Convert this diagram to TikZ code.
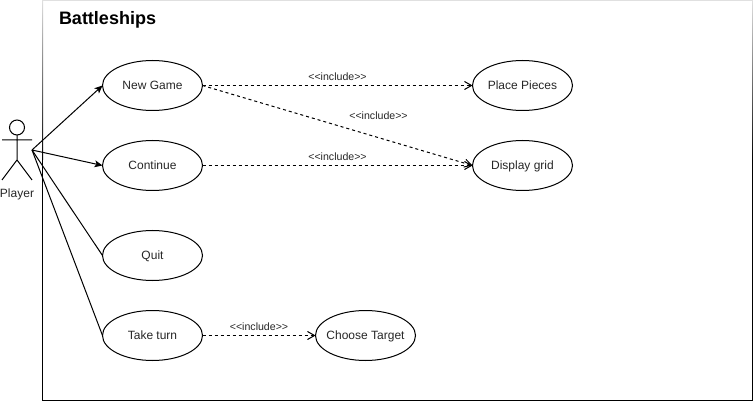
\documentclass[tikz,border=0pt]{standalone}
\usepackage{fontspec}
\setmainfont{Liberation Sans}
\usetikzlibrary{positioning,shapes.geometric,arrows.meta}
\newcommand{\incltxt}{{<}{<}include{>}{>}}
\tikzset{ %
  ,>={Stealth[length=8pt,width=7pt,inset=2pt]}
  ,every node/.style={font=\fontsize{12}{14}\selectfont, text=black!85}
  ,usecase/.style={draw, ellipse, inner sep=0, outer sep=0, minimum width=100pt, minimum height=50pt, text height=10pt, text depth=2pt, text=black!85}
  ,stereo/.style={font=\fontsize{10.6}{12}\selectfont, inner sep=0}
  ,incl/.style={dash pattern=on 3pt off 3pt, -{Straight Barb[length=7pt,width=8pt]}}
  ,fadeside/.style={top color=black!12, bottom color=black}
}

\begin{document}
\begin{tikzpicture}[x=1pt, y=-1pt, line width=1pt]
      \useasboundingbox (0,0) rectangle (753,401);
      % frame, fading out to the top
      \shade[fadeside] (42,0) rectangle (43,160);
      \shade[fadeside] (752,0) rectangle (753,160);
      \draw[black!12] (42,0.5) -- (753,0.5);
      \draw (42.5,160) -- (42.5,400.5) -- (752.5,400.5) -- (752.5,160);
      \node[anchor=west, inner sep=0, font=\fontsize{18}{20}\selectfont\bfseries, text=black] (title) at (58.5,20) {Battleships};
      % use cases
      \node[usecase] (newgame) at (152.5,85.5) {New Game};
      \node[usecase, below=30pt of newgame] (continue) {Continue};
      \node[usecase, below=40pt of continue] (quit) {Quit};
      \node[usecase, below=30pt of quit] (taketurn) {Take turn};
      \node[usecase, right=270pt of newgame] (place) {Place Pieces};
      \node[usecase, right=270pt of continue] (grid) {Display grid};
      \node[usecase, right=113pt of taketurn] (target) {\makebox[0pt]{Choose Target}};
      % actor
      \coordinate (hip) at (17,160);
      \coordinate (hand) at (32,150);
      \draw (17,127.5) circle (7.5pt);
      \draw (17,135) -- (hip) (2,140) -- (32,140) (2,180) -- (hip) -- (32,180);
      \node[inner sep=0] (player) at (17,194) {Player};
      % connectors
      \draw[->] (hand) -- (newgame.west);
      \draw[->] (hand) -- (continue.west);
      \draw (hand) -- (quit.west);
      \draw (hand) -- (taketurn.west);
      \draw[incl] (newgame.east) -- (place.west) node[stereo, pos=0.5, above=4pt] {\incltxt};
      \draw[incl] (newgame.east) -- (grid.west);
      \node[stereo] (inclgrid) at (378.5,116) {\incltxt};
      \draw[incl] (continue.east) -- (grid.west) node[stereo, pos=0.5, above=4pt] {\incltxt};
      \draw[incl] (taketurn.east) -- (target.west) node[stereo, pos=0.5, above=4pt] {\incltxt};
    \end{tikzpicture}
\end{document}
